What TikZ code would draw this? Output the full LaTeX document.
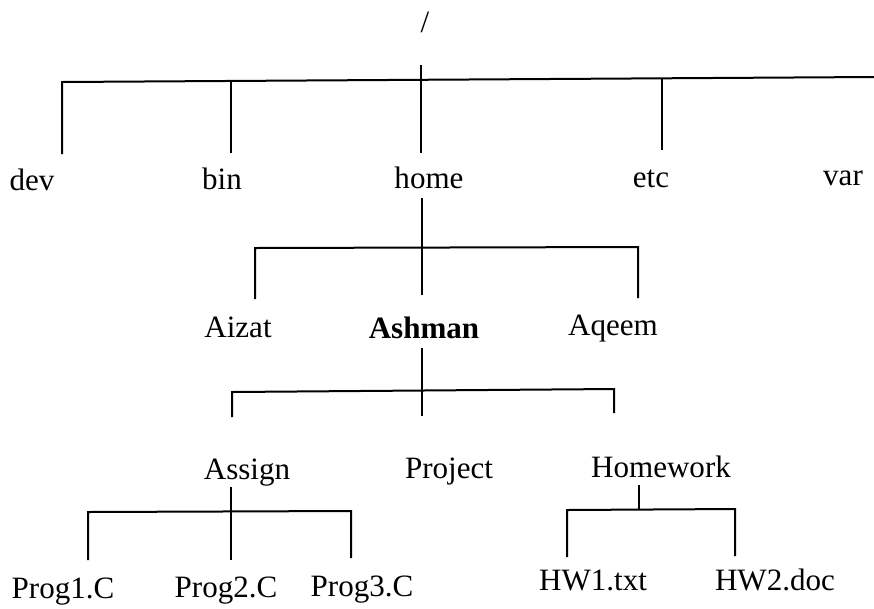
\documentclass[tikz,border=0pt]{standalone}
\usepackage{fontspec}
\setmainfont{Liberation Serif}
\begin{document}
\begin{tikzpicture}[x=0.75pt,y=-0.75pt,
  lbl/.style={anchor=base, inner sep=0pt, font=\fontsize{23.3}{28}\selectfont},
  boldlbl/.style={lbl, font=\fontsize{23.3}{28}\selectfont\bfseries},
  edge/.style={line width=1.5pt, line cap=butt, line join=miter}]
\useasboundingbox (0,0) rectangle (874,608);
% labels
\node[lbl] (root) at (425,32) {/};
\node[lbl] (dev) at (32,190) {dev};
\node[lbl] (bin) at (222,189) {bin};
\node[lbl] (home) at (429,188) {home};
\node[lbl] (etc) at (651,187) {etc};
\node[lbl] (var) at (843,185) {var};
\node[lbl] (aizat) at (238,337) {Aizat};
\node[boldlbl] (ashman) at (424,338) {Ashman};
\node[lbl] (aqeem) at (613,335) {Aqeem};
\node[lbl] (assign) at (247,479) {Assign};
\node[lbl] (project) at (449,478) {Project};
\node[lbl] (homework) at (661,477) {Homework};
\node[lbl] (p1) at (63,598) {Prog1.C};
\node[lbl] (p2) at (226,597) {Prog2.C};
\node[lbl] (p3) at (362,596) {Prog3.C};
\node[lbl] (hw1) at (593,590) {HW1.txt};
\node[lbl] (hw2) at (775,590) {HW2.doc};
% junction coordinates
\coordinate (rA) at (421,65);  \coordinate (rB) at (421,153);
\coordinate (rL) at (62,82);   \coordinate (rR) at (874,77);
\coordinate (devT) at (62,154);
\coordinate (binJ) at (231,81); \coordinate (binT) at (231,153);
\coordinate (etcJ) at (662,79); \coordinate (etcT) at (662,150);
\coordinate (hA) at (422,198); \coordinate (hB) at (422,295);
\coordinate (hL) at (255,248); \coordinate (hR) at (638,247);
\coordinate (aizT) at (255,299); \coordinate (aqT) at (638,298);
\coordinate (aA) at (422,348); \coordinate (aB) at (422,416);
\coordinate (aL) at (232,392); \coordinate (aR) at (614,389);
\coordinate (asgT) at (232,417); \coordinate (hwkT) at (614,413);
\coordinate (sA) at (231,487); \coordinate (sB) at (231,560);
\coordinate (sL) at (88,512);  \coordinate (sR) at (351,511);
\coordinate (p1T) at (88,560); \coordinate (p3T) at (351,558);
\coordinate (wA) at (639,485); \coordinate (wB) at (639,510);
\coordinate (wL) at (567,510); \coordinate (wR) at (735,509);
\coordinate (hw1T) at (567,557); \coordinate (hw2T) at (735,556);
% connectors
\draw[edge] (rA) -- (rB);
\draw[edge] (devT) -- (rL) -- (rR);
\draw[edge] (binJ) -- (binT);
\draw[edge] (etcJ) -- (etcT);
\draw[edge] (hA) -- (hB);
\draw[edge] (aizT) -- (hL) -- (hR) -- (aqT);
\draw[edge] (aA) -- (aB);
\draw[edge] (asgT) -- (aL) -- (aR) -- (hwkT);
\draw[edge] (sA) -- (sB);
\draw[edge] (p1T) -- (sL) -- (sR) -- (p3T);
\draw[edge] (wA) -- (wB);
\draw[edge] (hw1T) -- (wL) -- (wR) -- (hw2T);
\end{tikzpicture}
\end{document}
